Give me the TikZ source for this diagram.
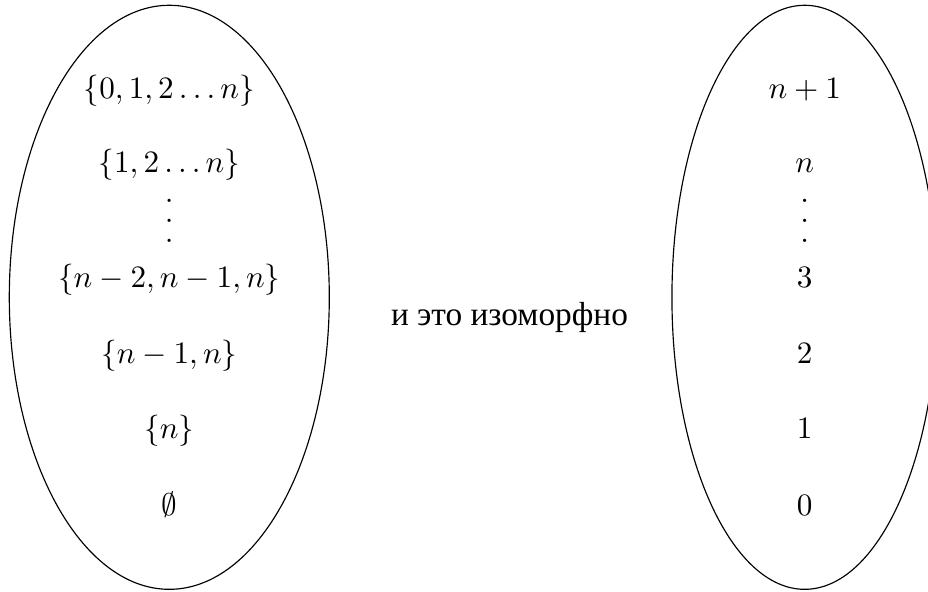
\documentclass[tikz,border=0pt]{standalone}
\usepackage{fontspec}
\newfontfamily\cyrfont{Liberation Serif}
\usetikzlibrary{shapes.geometric}
\newcommand\tallvdots{\vbox{\baselineskip=6.4pt\lineskiplimit=0pt\hbox{.}\hbox{.}\hbox{.}}}
\begin{document}
\begin{tikzpicture}[x=0.345pt,y=-0.345pt,
  every node/.style={inner sep=0pt},
  lbl/.style={anchor=base,scale=1.075},
  setel/.style={draw,ellipse,minimum width=#1,minimum height=201.5pt,inner sep=0pt}]
\useasboundingbox (0,0) rectangle (928,592);
\node[setel=110.4pt] (L) at (169.3,297.3) {};
\node[setel=91.6pt] (R) at (804.7,297.3) {};
% left column
\node[lbl] (l1) at (169.3,98.5) {$\{0,1,2\ldots n\}$};
\node[lbl] (l2) at (169.3,172) {$\{1,2\ldots n\}$};
\node[scale=1.075] (ld) at (169.3,221) {\tallvdots};
\node[lbl] (l3) at (169.3,287.5) {$\{n-2,n-1,n\}$};
\node[lbl] (l4) at (169.3,363) {$\{n-1,n\}$};
\node[lbl] (l5) at (169.3,438.5) {$\{n\}$};
\node[lbl] (l6) at (169.3,515) {$\emptyset$};
% right column
\node[lbl] (r1) at (804.7,98.5) {$n+1$};
\node[lbl] (r2) at (804.7,172) {$n$};
\node[scale=1.075] (rd) at (804.7,221) {\tallvdots};
\node[lbl] (r3) at (804.7,287.5) {$3$};
\node[lbl] (r4) at (804.7,363) {$2$};
\node[lbl] (r5) at (804.7,438.5) {$1$};
\node[lbl] (r6) at (804.7,515) {$0$};
% middle text
\node[anchor=base] (mid) at (509.5,325.3) {\cyrfont\fontsize{11.5pt}{13pt}\selectfont и это изоморфно};
\end{tikzpicture}
\end{document}
